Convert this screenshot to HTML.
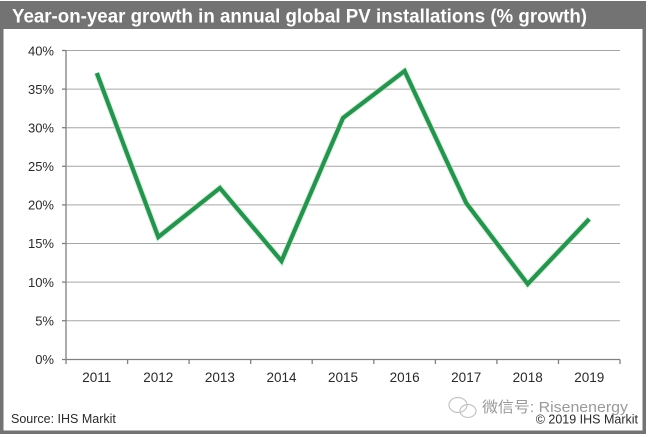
<!DOCTYPE html>
<html>
<head>
<meta charset="utf-8">
<style>
html,body{margin:0;padding:0;background:#fff;}
svg{display:block;}
</style>
</head>
<body>
<svg width="652" height="437" viewBox="0 0 652 437" xmlns="http://www.w3.org/2000/svg">
  <rect x="0" y="0" width="652" height="437" fill="#ffffff"/>
  <!-- frame -->
  <rect x="1.75" y="2.75" width="642.5" height="429.5" fill="#ffffff" stroke="#737373" stroke-width="3.5"/>
  <!-- title bar -->
  <rect x="0" y="1" width="646" height="28" fill="#737373"/>
  <text x="12" y="22.5" font-family="Liberation Sans, Arial, sans-serif" font-weight="bold" font-size="19" fill="#ffffff" textLength="575" lengthAdjust="spacingAndGlyphs">Year-on-year growth in annual global PV installations (% growth)</text>

  <!-- gridlines -->
  <g stroke="#a6a6a6" stroke-width="1">
    <line x1="66" y1="50.5" x2="620" y2="50.5"/>
    <line x1="66" y1="89.1" x2="620" y2="89.1"/>
    <line x1="66" y1="127.7" x2="620" y2="127.7"/>
    <line x1="66" y1="166.3" x2="620" y2="166.3"/>
    <line x1="66" y1="204.9" x2="620" y2="204.9"/>
    <line x1="66" y1="243.5" x2="620" y2="243.5"/>
    <line x1="66" y1="282.1" x2="620" y2="282.1"/>
    <line x1="66" y1="320.7" x2="620" y2="320.7"/>
  </g>
  <!-- axes -->
  <g stroke="#808080" stroke-width="1.3">
    <line x1="66" y1="50" x2="66" y2="359.5"/>
    <line x1="62" y1="359.5" x2="620" y2="359.5"/>
    <line x1="62" y1="50.5" x2="66" y2="50.5"/>
    <line x1="62" y1="89.1" x2="66" y2="89.1"/>
    <line x1="62" y1="127.7" x2="66" y2="127.7"/>
    <line x1="62" y1="166.3" x2="66" y2="166.3"/>
    <line x1="62" y1="204.9" x2="66" y2="204.9"/>
    <line x1="62" y1="243.5" x2="66" y2="243.5"/>
    <line x1="62" y1="282.1" x2="66" y2="282.1"/>
    <line x1="62" y1="320.7" x2="66" y2="320.7"/>
    <line x1="66" y1="359.5" x2="66" y2="364"/>
    <line x1="127.6" y1="359.5" x2="127.6" y2="364"/>
    <line x1="189.1" y1="359.5" x2="189.1" y2="364"/>
    <line x1="250.7" y1="359.5" x2="250.7" y2="364"/>
    <line x1="312.2" y1="359.5" x2="312.2" y2="364"/>
    <line x1="373.8" y1="359.5" x2="373.8" y2="364"/>
    <line x1="435.4" y1="359.5" x2="435.4" y2="364"/>
    <line x1="496.9" y1="359.5" x2="496.9" y2="364"/>
    <line x1="558.5" y1="359.5" x2="558.5" y2="364"/>
    <line x1="620" y1="359.5" x2="620" y2="364"/>
  </g>

  <!-- y labels -->
  <g font-family="Liberation Sans, Arial, sans-serif" font-size="13" fill="#2a2a2a" text-anchor="end">
    <text x="54" y="55.5">40%</text>
    <text x="54" y="94">35%</text>
    <text x="54" y="132.5">30%</text>
    <text x="54" y="171">25%</text>
    <text x="54" y="209.5">20%</text>
    <text x="54" y="248">15%</text>
    <text x="54" y="287">10%</text>
    <text x="54" y="325.5">5%</text>
    <text x="54" y="364">0%</text>
  </g>
  <!-- x labels -->
  <g font-family="Liberation Sans, Arial, sans-serif" font-size="13.5" fill="#2a2a2a" text-anchor="middle">
    <text x="96.8" y="382">2011</text>
    <text x="158.3" y="382">2012</text>
    <text x="219.9" y="382">2013</text>
    <text x="281.5" y="382">2014</text>
    <text x="343" y="382">2015</text>
    <text x="404.6" y="382">2016</text>
    <text x="466.2" y="382">2017</text>
    <text x="527.7" y="382">2018</text>
    <text x="589.3" y="382">2019</text>
  </g>

  <!-- series -->
  <polyline points="96.8,73 158.3,237 219.9,188 281.5,261 343,118 404.6,71 466.2,203 527.7,284 589.3,219"
    fill="none" stroke="#b8f0c8" stroke-width="6.5" stroke-linejoin="miter" stroke-opacity="0.6"/>
  <polyline points="96.8,73 158.3,237 219.9,188 281.5,261 343,118 404.6,71 466.2,203 527.7,284 589.3,219"
    fill="none" stroke="#2b9150" stroke-width="4.2" stroke-linejoin="miter"/>

  <!-- footer -->
  <text x="11" y="423" font-family="Liberation Sans, Arial, sans-serif" font-size="12.5" fill="#2a2a2a">Source: IHS Markit</text>
  <!-- watermark icon -->
  <g fill="none" stroke="#c4c4c4" stroke-width="1.2">
    <ellipse cx="458" cy="405" rx="9" ry="7.5"/>
    <ellipse cx="468" cy="411" rx="8" ry="6.5"/>
  </g>
  <text x="482" y="412" font-family="Liberation Sans, 'Noto Sans CJK SC', sans-serif" font-size="15" fill="#9a9a9a" textLength="146" lengthAdjust="spacingAndGlyphs">微信号: Risenenergy</text>
  <text x="638" y="423.5" font-family="Liberation Sans, Arial, sans-serif" font-size="12.5" fill="#2a2a2a" text-anchor="end">© 2019 IHS Markit</text>
</svg>
</body>
</html>
